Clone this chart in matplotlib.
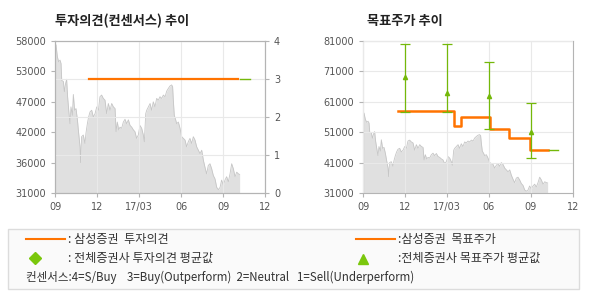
import numpy as np
import matplotlib.pyplot as plt
from matplotlib.lines import Line2D
from matplotlib.patches import Rectangle

KR = ['Noto Sans CJK KR', 'DejaVu Sans']

# 날짜축: 2016/09 = 0 부터 월 단위
month_ticks = [0, 3, 6, 9, 12, 15]
month_labels = ['09', '12', '17/03', '06', '09', '12']

# 주가 (회색 영역)
price_m = [0.00, 0.07, 0.17, 0.26, 0.36, 0.43, 0.48, 0.60, 0.67, 0.76, 0.83, 0.90,
           0.98, 1.07, 1.14, 1.24, 1.31, 1.40, 1.50, 1.60, 1.69, 1.79, 1.83, 1.90,
           2.02, 2.14, 2.21, 2.31, 2.40, 2.50, 2.62, 2.74, 2.86, 2.98, 3.10, 3.21,
           3.33, 3.45, 3.57, 3.69, 3.81, 3.93, 4.05, 4.17, 4.29, 4.36, 4.45, 4.55,
           4.64, 4.76, 4.88, 5.00, 5.12, 5.24, 5.36, 5.48, 5.60, 5.71, 5.83, 5.95,
           6.07, 6.19, 6.31, 6.38, 6.48, 6.55, 6.67, 6.79, 6.90, 7.02, 7.14, 7.26,
           7.38, 7.50, 7.62, 7.74, 7.86, 7.98, 8.10, 8.21, 8.33, 8.40, 8.45, 8.52,
           8.62, 8.69, 8.81, 8.93, 9.05, 9.17, 9.29, 9.40, 9.52, 9.64, 9.76, 9.88,
           10.00, 10.12, 10.24, 10.36, 10.48, 10.60, 10.71, 10.83, 10.95, 11.07,
           11.19, 11.31, 11.43, 11.55, 11.67, 11.79, 11.90, 12.02, 12.14, 12.26,
           12.38, 12.50, 12.62, 12.74, 12.86, 12.98, 13.10, 13.19]
price = [57600, 57300, 55200, 54300, 54600, 54000, 51000, 50800, 49000, 50500, 51200, 48100,
         45700, 43300, 46300, 44800, 48500, 45700, 46000, 44000, 41600, 39200, 36400, 41000,
         41300, 39800, 41600, 43300, 44500, 45400, 45700, 44500, 45100, 46300, 45700, 48100,
         48400, 47800, 47500, 45100, 46900, 45700, 46900, 46300, 46000, 41900, 43600, 42200,
         42700, 42500, 43600, 44100, 43300, 44000, 43000, 42700, 42200, 41900, 40700, 41300,
         43000, 42500, 41300, 40100, 45100, 45700, 46300, 46900, 45700, 47200, 46300, 47800,
         47500, 48100, 47800, 48400, 48100, 49100, 49600, 50000, 50200, 49900, 47500, 44800,
         44000, 43300, 43600, 42500, 41000, 40700, 40400, 39200, 40100, 40700, 39800, 41000,
         40400, 39200, 38600, 38000, 38600, 36800, 35600, 34400, 35900, 36200,
         35300, 34100, 33500, 32000, 31600, 32000, 33300, 32400, 33300, 33900,
         33000, 34400, 36200, 35300, 33900, 34700, 34400, 34300]

# 투자의견
opinion_m = [2.45, 13.1]
opinion = [3, 3]
opinion_avg_m = [13.2, 13.9]
opinion_avg = [3, 3]
left_ticks = ['31000', '36000', '42000', '47000', '53000', '58000']

# 목표주가
target_m = [2.5, 6.5, 7.0, 9.1, 10.4, 11.95, 13.2]
target = [58000, 53000, 56000, 52000, 49000, 45000, 45000]
target_avg_m = [13.3, 13.9]
target_avg = [45000, 45000]
range_m = [3, 6, 9, 12]
range_hi = [80000, 80000, 74000, 60500]
range_lo = [57500, 57500, 52000, 42500]
range_mean = [69000, 64000, 63000, 51000]

ORANGE = '#ff7300'
GREEN = '#74b80a'
GRID = '#e9e9e9'


def style_axes(ax):
    for s in ax.spines.values():
        s.set_color('#b4b4b4')
        s.set_linewidth(0.8)
    ax.tick_params(colors='#b4b4b4', labelcolor='#555555', labelsize=7,
                   length=3, width=0.8)
    ax.set_xlim(0, 15)
    ax.set_xticks(month_ticks)
    ax.set_xticklabels(month_labels)


fig = plt.figure(figsize=(5.9, 3.0), dpi=100)
fig.patch.set_facecolor('white')

# ---- 투자의견(컨센서스) 추이 ----
ax1 = fig.add_axes([55 / 590, 107 / 300, 210 / 590, 152 / 300])
style_axes(ax1)
ax1.fill_between(price_m, price, 31000, color='#e0e0e0', lw=0, zorder=1)
ax1.plot(price_m, price, color='#c6c6c6', lw=0.6, zorder=1)
ax1.set_ylim(31000, 58000)
ax1.set_yticks(np.linspace(31000, 58000, 6))
ax1.set_yticklabels(left_ticks)
ax1.grid(axis='x', color=GRID, lw=0.8, zorder=2)
ax1.set_axisbelow(False)

ax1b = ax1.twinx()
style_axes(ax1b)
ax1b.set_ylim(0, 4)
ax1b.set_yticks(range(5))
ax1b.grid(axis='y', color=GRID, lw=0.8)
ax1b.plot(opinion_m, opinion, color=ORANGE, lw=1.6, zorder=3)
ax1b.plot(opinion_avg_m, opinion_avg, color=GREEN, lw=1.0, zorder=3)

fig.text(55 / 590, 1 - 21 / 300, '투자의견(컨센서스) 추이', fontsize=9.5,
         fontweight='bold', va='center', color='#222222', family=KR)

# ---- 목표주가 추이 ----
ax2 = fig.add_axes([363 / 590, 107 / 300, 210 / 590, 152 / 300])
style_axes(ax2)
ax2.fill_between(price_m, price, 31000, color='#e0e0e0', lw=0, zorder=1)
ax2.plot(price_m, price, color='#c6c6c6', lw=0.6, zorder=1)
ax2.set_ylim(31000, 81000)
ax2.set_yticks(range(31000, 81001, 10000))
ax2.grid(color=GRID, lw=0.8, zorder=2)
ax2.set_axisbelow(False)
ax2.plot(target_m, target, color=ORANGE, lw=1.8, drawstyle='steps-post', zorder=3)
ax2.plot(target_avg_m, target_avg, color=GREEN, lw=1.0, zorder=3)
mean = np.array(range_mean)
ax2.errorbar(range_m, mean, yerr=[mean - np.array(range_lo), np.array(range_hi) - mean],
             fmt='none', ecolor=GREEN, elinewidth=0.9, capsize=3.3, capthick=0.9, zorder=4)
ax2.plot(range_m, mean, ls='none', marker='^', ms=3, color=GREEN, zorder=4)

fig.text(367 / 590, 1 - 21 / 300, '목표주가 추이', fontsize=9.5,
         fontweight='bold', va='center', color='#222222', family=KR)

# ---- 범례 ----
fig.patches.append(Rectangle((8 / 590, 11 / 300), 571 / 590, 60 / 300,
                             transform=fig.transFigure, facecolor='#fafafa',
                             edgecolor='#dcdcdc', lw=1))


def fy(y):
    return 1 - y / 300


fig.add_artist(Line2D([26 / 590, 65 / 590], [fy(239), fy(239)], color=ORANGE, lw=1.5))
fig.add_artist(Line2D([356 / 590, 395 / 590], [fy(239), fy(239)], color=ORANGE, lw=1.5))
fig.add_artist(Line2D([35 / 590], [fy(258)], marker='D', ms=6.5, color='#7ac70c', ls='none'))
fig.add_artist(Line2D([363 / 590], [fy(259)], marker='^', ms=7.5, color='#7ac70c', ls='none'))

leg_kw = dict(fontsize=8.7, va='center', color='#333333', family=KR)
fig.text(68 / 590, fy(239), ': 삼성증권  투자의견', **leg_kw)
fig.text(68 / 590, fy(258), ': 전체증권사 투자의견 평균값', **leg_kw)
fig.text(398 / 590, fy(239), ':삼성증권  목표주가', **leg_kw)
fig.text(398 / 590, fy(258), ':전체증권사 목표주가 평균값', **leg_kw)
fig.text(26 / 590, fy(277),
         '컨센서스:4=S/Buy    3=Buy(Outperform)  2=Neutral   1=Sell(Underperform)',
         fontsize=8.3, va='center', color='#333333', family=KR)

fig.savefig('out.png', dpi=100)
